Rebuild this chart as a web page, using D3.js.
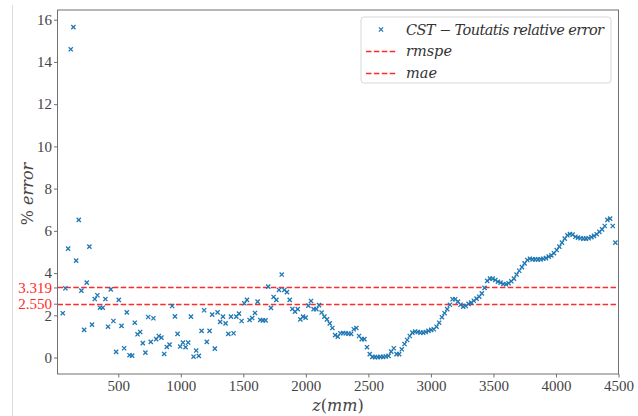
<!DOCTYPE html>
<html>
<head>
<meta charset="utf-8">
<script src="https://cdn.jsdelivr.net/npm/d3@7/dist/d3.min.js"></script>
<style>
  body { margin: 0; background: #fff; }
  svg { display: block; }
</style>
</head>
<body>
<div id="chart"></div>
<script>
// z positions (mm) of the samples
const zPositions = [
  56, 77, 99, 120, 141, 163, 184, 205, 227, 248,
  269, 290, 312, 333, 354, 376, 397, 418, 440, 461,
  483, 504, 526, 547, 568, 590, 611, 632, 654, 675,
  696, 717, 739, 760, 781, 803, 824, 845, 867, 888,
  910, 931, 953, 974, 995, 1017, 1038, 1059, 1081, 1102,
  1123, 1144, 1166, 1187, 1208, 1230, 1251, 1272, 1294, 1315,
  1337, 1358, 1380, 1401, 1422, 1444, 1465, 1486, 1508, 1529,
  1550, 1571, 1593, 1614, 1635, 1657, 1678, 1699, 1721, 1742,
  1764, 1785, 1807, 1828, 1849, 1871, 1892, 1913, 1935, 1956,
  1977, 1998, 2020, 2041, 2062, 2084, 2105, 2126, 2148, 2169,
  2191, 2212, 2234, 2255, 2276, 2298, 2319, 2340, 2362, 2383,
  2404, 2425, 2447, 2468, 2489, 2511, 2532, 2553, 2575, 2596,
  2618, 2639, 2661, 2682, 2703, 2725, 2746, 2767, 2789, 2810,
  2831, 2852, 2874, 2895, 2916, 2938, 2959, 2980, 3002, 3023,
  3045, 3066, 3088, 3109, 3130, 3152, 3173, 3194, 3216, 3237,
  3258, 3279, 3301, 3322, 3343, 3365, 3386, 3407, 3429, 3450,
  3472, 3493, 3515, 3536, 3557, 3579, 3600, 3621, 3643, 3664,
  3685, 3706, 3728, 3749, 3770, 3792, 3813, 3834, 3856, 3877,
  3899, 3920, 3942, 3963, 3984, 4006, 4027, 4048, 4070, 4091,
  4112, 4133, 4155, 4176, 4197, 4219, 4240, 4261, 4283, 4304,
  4326, 4347, 4369, 4390, 4411, 4433, 4454, 4475
];

// CST - Toutatis relative error (%)
const relErrors = [
  2.10, 3.28, 5.16, 14.6, 15.65, 4.59, 6.52, 3.17, 1.31, 3.55,
  5.25, 1.56, 2.77, 2.95, 2.36, 2.36, 2.77, 1.46, 3.23, 1.73,
  0.27, 2.73, 1.50, 0.44, 2.14, 0.11, 0.09, 1.65, 1.10, 1.21,
  0.68, 0.23, 1.92, 0.74, 1.86, 0.87, 1.02, 0.94, 0.17, 0.50,
  0.61, 2.44, 1.95,
  1.12, 0.52, 0.71, 0.49, 0.71, 1.94, 0.04, 0.33, 0.08, 1.26,
  2.24, 0.74, 1.26, 2.03, 0.42, 2.14, 1.69, 1.94, 1.62, 1.12,
  1.94, 1.15, 1.94, 2.08, 1.73, 2.57, 2.73, 1.78, 1.87, 2.11,
  2.65, 1.78, 1.76, 1.76, 3.36, 2.35, 2.87, 2.73, 3.20, 3.93,
  3.20, 3.10,
  2.73, 2.30, 2.17, 2.29, 1.81, 1.94, 1.89, 2.46, 2.68, 2.29,
  2.29, 2.48, 2.13, 1.94, 1.81, 1.62, 1.40, 1.06, 0.99, 1.15,
  1.16, 1.15, 1.13, 1.12, 1.34, 1.40, 1.02, 0.87, 0.87, 0.49,
  0.16, 0.03, 0.02, 0.02, 0.03, 0.03, 0.05, 0.08, 0.28, 0.44,
  0.16, 0.16, 0.39,
  0.64, 0.83, 1.02, 1.18, 1.23, 1.21, 1.18, 1.18, 1.21, 1.26,
  1.31, 1.34, 1.46, 1.65, 1.91, 2.10, 2.29, 2.50, 2.76, 2.76,
  2.65, 2.50, 2.41, 2.44, 2.54, 2.60, 2.69, 2.79, 2.88, 3.04,
  3.30, 3.63, 3.74, 3.74, 3.67, 3.59, 3.55, 3.48, 3.47, 3.52,
  3.61, 3.74, 3.93, 4.11,
  4.28, 4.46, 4.62, 4.68, 4.65, 4.65, 4.65, 4.65, 4.68, 4.71,
  4.78, 4.84, 4.94, 5.09, 5.25, 5.44, 5.63, 5.79, 5.85, 5.82,
  5.72, 5.68, 5.65, 5.63, 5.63, 5.65, 5.70, 5.76, 5.84, 5.95,
  6.07, 6.23, 6.52, 6.58, 6.23, 5.44
];

const rmspe = 3.319;
const mae = 2.550;

const xTicks = [500, 1000, 1500, 2000, 2500, 3000, 3500, 4000, 4500];
const yTicks = [0, 2, 4, 6, 8, 10, 12, 14, 16];

const legendItems = ['CST \u2212 Toutatis relative error', 'rmspe', 'mae'];

const width = 638, height = 416;
const margin = { left: 57.5, right: 19.5, top: 10, bottom: 42 };
const innerW = width - margin.left - margin.right;
const innerH = height - margin.top - margin.bottom;

const serif = 'Liberation Serif';
const italicSerif = 'DejaVu Serif';
const frameColor = '#707070';
const tickTextColor = '#444';
const blue = '#1f77b4';
const red = '#ff2a2a';

const svg = d3.select('#chart')
  .append('svg')
  .attr('width', width)
  .attr('height', height);

// notebook output gutter line
svg.append('line')
  .attr('x1', 12.5).attr('x2', 12.5)
  .attr('y1', 5).attr('y2', height)
  .attr('stroke', '#dcdcdc')
  .attr('stroke-width', 1);

const g = svg.append('g')
  .attr('transform', `translate(${margin.left},${margin.top})`);

const x = d3.scaleLinear().domain([14, 4500]).range([0, innerW]);
const y = d3.scaleLinear().domain([-0.78, 16.46]).range([innerH, 0]);

function styleAxis(a, color) {
  a.attr('font-family', serif).attr('font-size', 15);
  a.select('.domain').remove();
  a.selectAll('.tick line').attr('stroke', frameColor);
  a.selectAll('.tick text').attr('fill', color);
}

// x axis
g.append('g')
  .attr('transform', `translate(0,${innerH})`)
  .call(d3.axisBottom(x).tickValues(xTicks).tickFormat(d3.format('d'))
    .tickSize(3.5).tickPadding(3).tickSizeOuter(0))
  .call(a => styleAxis(a, tickTextColor));

// y axis
g.append('g')
  .call(d3.axisLeft(y).tickValues(yTicks).tickSize(3.5).tickPadding(2).tickSizeOuter(0))
  .call(a => styleAxis(a, tickTextColor));

// red extra ticks for rmspe / mae
g.append('g')
  .call(d3.axisLeft(y).tickValues([rmspe, mae]).tickFormat(d3.format('.3f'))
    .tickSize(3.5).tickPadding(2).tickSizeOuter(0))
  .call(a => styleAxis(a, red));

// horizontal reference lines
g.selectAll('.ref-line')
  .data([rmspe, mae])
  .join('line')
  .attr('class', 'ref-line')
  .attr('x1', 0).attr('x2', innerW)
  .attr('y1', d => Math.round(y(d)) + 0.5).attr('y2', d => Math.round(y(d)) + 0.5)
  .attr('stroke', red)
  .attr('stroke-width', 1.3)
  .attr('stroke-dasharray', '5.5,2.4');

// scatter markers
const r = 2.1;
const xMarker = `M${-r},${-r}L${r},${r}M${-r},${r}L${r},${-r}`;
g.selectAll('.pt')
  .data(zPositions.map((z, i) => [z, relErrors[i]]))
  .join('path')
  .attr('class', 'pt')
  .attr('d', xMarker)
  .attr('transform', d => `translate(${x(d[0])},${y(d[1])})`)
  .attr('fill', 'none')
  .attr('stroke', blue)
  .attr('stroke-width', 1.3);

// frame
g.append('rect')
  .attr('width', innerW).attr('height', innerH)
  .attr('fill', 'none')
  .attr('stroke', frameColor)
  .attr('stroke-width', 1);

// axis labels
svg.append('text')
  .attr('x', margin.left + innerW / 2)
  .attr('y', 411)
  .attr('text-anchor', 'middle')
  .attr('fill', tickTextColor)
  .attr('font-family', italicSerif)
  .attr('font-size', 16)
  .call(t => {
    t.append('tspan').attr('font-style', 'italic').text('z');
    t.append('tspan').text('(');
    t.append('tspan').attr('font-style', 'italic').text('mm');
    t.append('tspan').text(')');
  });

svg.append('text')
  .attr('transform', `translate(33,${margin.top + 184}) rotate(-90)`)
  .attr('text-anchor', 'middle')
  .attr('fill', tickTextColor)
  .attr('font-family', italicSerif)
  .attr('font-size', 16)
  .call(t => {
    t.append('tspan').text('% ');
    t.append('tspan').attr('font-style', 'italic').text('error');
  });

// legend
const legend = svg.append('g').attr('transform', 'translate(361,17)');
legend.append('rect')
  .attr('width', 250).attr('height', 66)
  .attr('rx', 3)
  .attr('fill', 'rgba(255,255,255,0.8)')
  .attr('stroke', '#d8d8d8')
  .attr('stroke-width', 1);

legendItems.forEach((label, i) => {
  const cy = 12.5 + i * 21.5;
  if (i === 0) {
    legend.append('path')
      .attr('d', xMarker)
      .attr('transform', `translate(20,${cy})`)
      .attr('fill', 'none')
      .attr('stroke', blue)
      .attr('stroke-width', 1.3);
  } else {
    legend.append('line')
      .attr('x1', 5).attr('x2', 35)
      .attr('y1', Math.round(cy) + 0.5).attr('y2', Math.round(cy) + 0.5)
      .attr('stroke', red)
      .attr('stroke-width', 1.3)
      .attr('stroke-dasharray', '5.5,2.4');
  }
  legend.append('text')
    .attr('x', 45)
    .attr('y', cy + 5)
    .attr('fill', '#333')
    .attr('font-family', italicSerif)
    .attr('font-style', 'italic')
    .attr('font-size', 14.5)
    .attr('textLength', i === 0 ? 198 : null)
    .text(label);
});
</script>
</body>
</html>
